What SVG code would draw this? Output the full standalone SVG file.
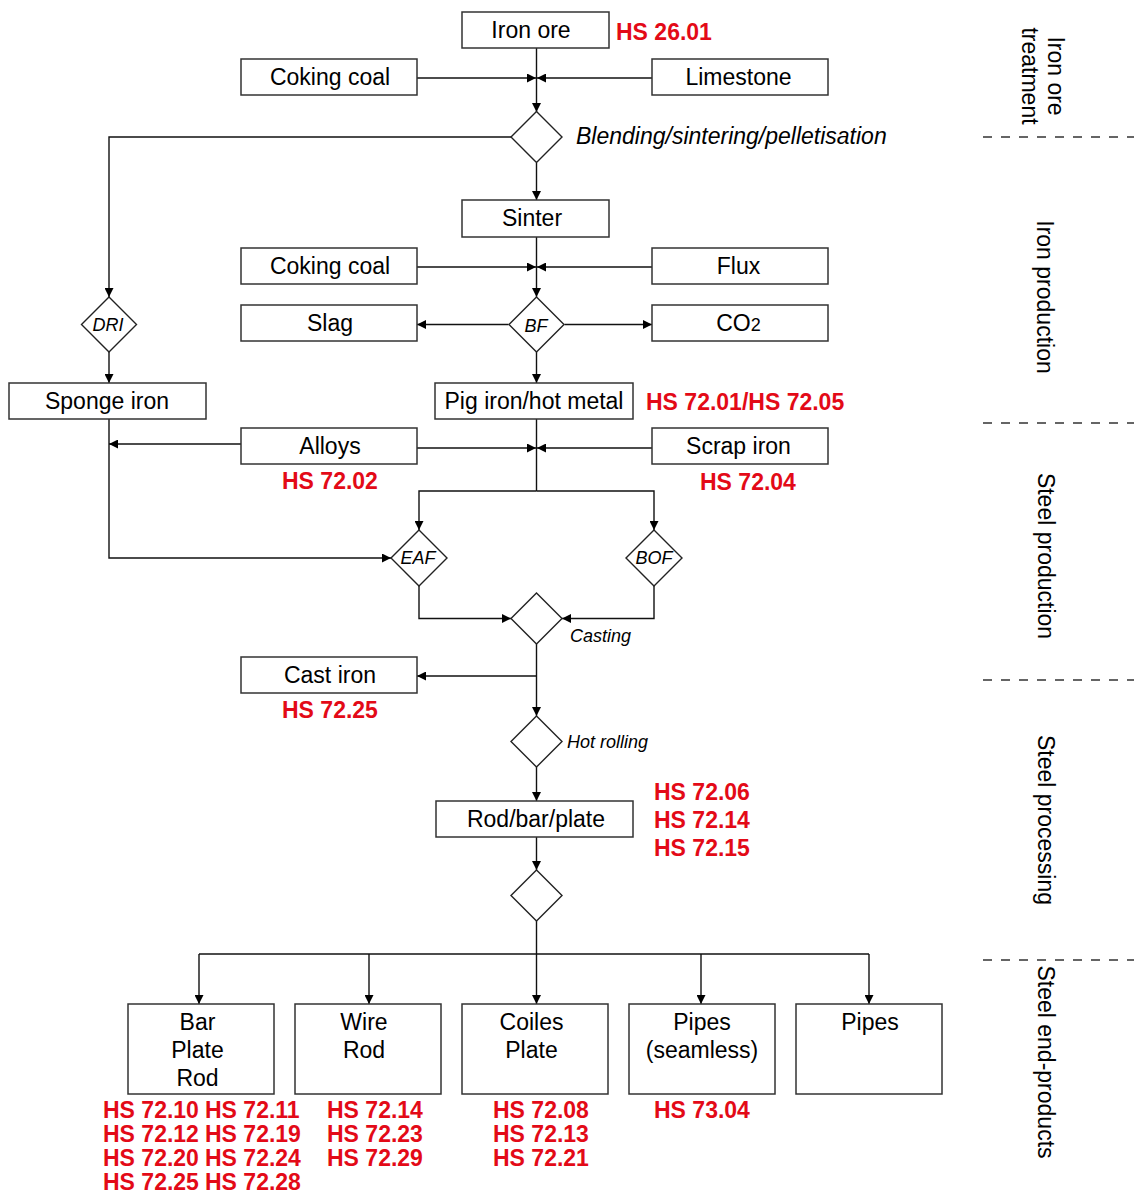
<svg xmlns="http://www.w3.org/2000/svg" width="1134" height="1194" viewBox="0 0 1134 1194">
  <style>
    .box { fill: #fff; stroke: #333; stroke-width: 1.5; }
    .dia { fill: #fff; stroke: #222; stroke-width: 1.4; }
    .lbl { font-family: "Liberation Sans", Arial, sans-serif; font-size: 23px; fill: #000; text-anchor: middle; }
    .it { font-family: "Liberation Sans", Arial, sans-serif; font-style: italic; fill: #000; }
    .dl { font-size: 18px; text-anchor: middle; }
    .hs { font-family: "Liberation Sans", Arial, sans-serif; font-size: 23px; font-weight: bold; fill: #e30a17; }
    .stage { font-family: "Liberation Sans", Arial, sans-serif; font-size: 23px; fill: #000; text-anchor: middle; }
    .conn path { fill: none; stroke: #111; stroke-width: 1.4; }
    .sep { stroke: #333; stroke-width: 1.3; stroke-dasharray: 9 9; }
  </style>
  <defs>
    <marker id="ah" viewBox="0 0 10 10" refX="10" refY="5" markerWidth="9" markerHeight="9" markerUnits="userSpaceOnUse" orient="auto">
      <path d="M0,0 L10,5 L0,10 z" fill="#000"/>
    </marker>
  </defs>
  <rect width="1134" height="1194" fill="#fff"/>

  <!-- connectors -->
  <g id="connectors" class="conn">
    <path d="M536.5,48 V112" marker-end="url(#ah)"/>
    <path d="M417,78 H536" marker-end="url(#ah)"/>
    <path d="M652,78 H537" marker-end="url(#ah)"/>
    <path d="M536.5,163 V200" marker-end="url(#ah)"/>
    <path d="M511,137 H109 V297" marker-end="url(#ah)"/>
    <path d="M109,352 V383" marker-end="url(#ah)"/>
    <path d="M109,419 V558 H391" marker-end="url(#ah)"/>
    <path d="M241,444 H109" marker-end="url(#ah)"/>
    <path d="M536.5,237 V297" marker-end="url(#ah)"/>
    <path d="M417,267 H536" marker-end="url(#ah)"/>
    <path d="M652,267 H537" marker-end="url(#ah)"/>
    <path d="M508.5,324.5 H417" marker-end="url(#ah)"/>
    <path d="M564.5,324.5 H652" marker-end="url(#ah)"/>
    <path d="M536.5,352 V383" marker-end="url(#ah)"/>
    <path d="M536.5,419 V491"/>
    <path d="M417,448 H536" marker-end="url(#ah)"/>
    <path d="M652,448 H537" marker-end="url(#ah)"/>
    <path d="M536.5,491 H419 V530" marker-end="url(#ah)"/>
    <path d="M536.5,491 H654 V530" marker-end="url(#ah)"/>
    <path d="M419,586 V618.5 H511" marker-end="url(#ah)"/>
    <path d="M654,586 V618.5 H562" marker-end="url(#ah)"/>
    <path d="M536.5,644 V716" marker-end="url(#ah)"/>
    <path d="M536.5,676 H417" marker-end="url(#ah)"/>
    <path d="M536.5,767 V801" marker-end="url(#ah)"/>
    <path d="M536.5,837 V870" marker-end="url(#ah)"/>
    <path d="M536.5,921 V1004" marker-end="url(#ah)"/>
    <path d="M199,954 H869"/>
    <path d="M199,954 V1004" marker-end="url(#ah)"/>
    <path d="M369,954 V1004" marker-end="url(#ah)"/>
    <path d="M701,954 V1004" marker-end="url(#ah)"/>
    <path d="M869,954 V1004" marker-end="url(#ah)"/>
  </g>

  <!-- iron ore treatment -->
  <g id="iron-ore">
    <rect class="box" x="462" y="12" width="147" height="36"/>
    <text class="lbl" x="531" y="38">Iron ore</text>
    <text class="hs" x="616" y="40">HS 26.01</text>
  </g>
  <g id="coking-coal-1">
    <rect class="box" x="241" y="59" width="176" height="36"/>
    <text class="lbl" x="330" y="85">Coking coal</text>
  </g>
  <g id="limestone">
    <rect class="box" x="652" y="59" width="176" height="36"/>
    <text class="lbl" x="738.5" y="85">Limestone</text>
  </g>
  <g id="blending">
    <polygon class="dia" points="536.5,111.5 562,137 536.5,162.5 511,137"/>
    <text class="it" x="576" y="144" font-size="23">Blending/sintering/pelletisation</text>
  </g>

  <!-- iron production -->
  <g id="sinter">
    <rect class="box" x="462" y="200" width="147" height="37"/>
    <text class="lbl" x="532" y="226">Sinter</text>
  </g>
  <g id="coking-coal-2">
    <rect class="box" x="241" y="248" width="176" height="36"/>
    <text class="lbl" x="330" y="274">Coking coal</text>
  </g>
  <g id="flux">
    <rect class="box" x="652" y="248" width="176" height="36"/>
    <text class="lbl" x="738.5" y="274">Flux</text>
  </g>
  <g id="dri">
    <polygon class="dia" points="109,297 136.5,324.5 109,352 81.5,324.5"/>
    <text class="it dl" x="108" y="331">DRI</text>
  </g>
  <g id="bf">
    <polygon class="dia" points="536.5,297 564,324.5 536.5,352 509,324.5"/>
    <text class="it dl" x="536" y="332">BF</text>
  </g>
  <g id="slag">
    <rect class="box" x="241" y="305" width="176" height="36"/>
    <text class="lbl" x="330" y="331">Slag</text>
  </g>
  <g id="co2">
    <rect class="box" x="652" y="305" width="176" height="36"/>
    <text class="lbl" x="738.5" y="331">CO<tspan font-size="18">2</tspan></text>
  </g>
  <g id="sponge-iron">
    <rect class="box" x="9" y="383" width="197" height="36"/>
    <text class="lbl" x="107" y="409">Sponge iron</text>
  </g>
  <g id="pig-iron">
    <rect class="box" x="435" y="383" width="198" height="36"/>
    <text class="lbl" x="534" y="409">Pig iron/hot metal</text>
    <text class="hs" x="646" y="410">HS 72.01/HS 72.05</text>
  </g>

  <!-- steel production -->
  <g id="alloys">
    <rect class="box" x="241" y="428" width="176" height="36"/>
    <text class="lbl" x="330" y="454">Alloys</text>
    <text class="hs" x="282" y="489">HS 72.02</text>
  </g>
  <g id="scrap-iron">
    <rect class="box" x="652" y="428" width="176" height="36"/>
    <text class="lbl" x="738.5" y="454">Scrap iron</text>
    <text class="hs" x="700" y="490">HS 72.04</text>
  </g>
  <g id="eaf">
    <polygon class="dia" points="419,530 447,558 419,586 391,558"/>
    <text class="it dl" x="418" y="564">EAF</text>
  </g>
  <g id="bof">
    <polygon class="dia" points="654,530 682,558 654,586 626,558"/>
    <text class="it dl" x="654" y="564">BOF</text>
  </g>
  <g id="casting">
    <polygon class="dia" points="536.5,593 562,618.5 536.5,644 511,618.5"/>
    <text class="it" x="570" y="642" font-size="18">Casting</text>
  </g>
  <g id="cast-iron">
    <rect class="box" x="241" y="657" width="176" height="36"/>
    <text class="lbl" x="330" y="683">Cast iron</text>
    <text class="hs" x="282" y="718">HS 72.25</text>
  </g>

  <!-- steel processing -->
  <g id="hot-rolling">
    <polygon class="dia" points="536.5,716 562,741.5 536.5,767 511,741.5"/>
    <text class="it" x="567" y="748" font-size="18">Hot rolling</text>
  </g>
  <g id="rod-bar-plate">
    <rect class="box" x="436" y="801" width="197" height="36"/>
    <text class="lbl" x="536" y="827">Rod/bar/plate</text>
    <text class="hs" x="654" y="800">HS 72.06</text>
    <text class="hs" x="654" y="828">HS 72.14</text>
    <text class="hs" x="654" y="856">HS 72.15</text>
  </g>
  <g id="split">
    <polygon class="dia" points="536.5,870 562,895.5 536.5,921 511,895.5"/>
  </g>

  <!-- steel end-products -->
  <g id="bar-plate-rod">
    <rect class="box" x="128" y="1004" width="146" height="90"/>
    <text class="lbl" x="197.5" y="1030">Bar</text>
    <text class="lbl" x="197.5" y="1058">Plate</text>
    <text class="lbl" x="197.5" y="1086">Rod</text>
    <text class="hs" x="103" y="1118">HS 72.10</text>
    <text class="hs" x="205" y="1118">HS 72.11</text>
    <text class="hs" x="103" y="1142">HS 72.12</text>
    <text class="hs" x="205" y="1142">HS 72.19</text>
    <text class="hs" x="103" y="1166">HS 72.20</text>
    <text class="hs" x="205" y="1166">HS 72.24</text>
    <text class="hs" x="103" y="1190">HS 72.25</text>
    <text class="hs" x="205" y="1190">HS 72.28</text>
  </g>
  <g id="wire-rod">
    <rect class="box" x="295" y="1004" width="146" height="90"/>
    <text class="lbl" x="364" y="1030">Wire</text>
    <text class="lbl" x="364" y="1058">Rod</text>
    <text class="hs" x="327" y="1118">HS 72.14</text>
    <text class="hs" x="327" y="1142">HS 72.23</text>
    <text class="hs" x="327" y="1166">HS 72.29</text>
  </g>
  <g id="coiles-plate">
    <rect class="box" x="462" y="1004" width="146" height="90"/>
    <text class="lbl" x="531.5" y="1030">Coiles</text>
    <text class="lbl" x="531.5" y="1058">Plate</text>
    <text class="hs" x="493" y="1118">HS 72.08</text>
    <text class="hs" x="493" y="1142">HS 72.13</text>
    <text class="hs" x="493" y="1166">HS 72.21</text>
  </g>
  <g id="pipes-seamless">
    <rect class="box" x="629" y="1004" width="146" height="90"/>
    <text class="lbl" x="702" y="1030">Pipes</text>
    <text class="lbl" x="702" y="1058">(seamless)</text>
    <text class="hs" x="654" y="1118">HS 73.04</text>
  </g>
  <g id="pipes">
    <rect class="box" x="796" y="1004" width="146" height="90"/>
    <text class="lbl" x="870" y="1030">Pipes</text>
  </g>

  <!-- stage labels and separators -->
  <g id="stages">
    <line class="sep" x1="983" y1="137" x2="1134" y2="137"/>
    <line class="sep" x1="983" y1="423" x2="1134" y2="423"/>
    <line class="sep" x1="983" y1="680" x2="1134" y2="680"/>
    <line class="sep" x1="983" y1="960" x2="1134" y2="960"/>
    <text class="stage" transform="translate(1048,76) rotate(90)">Iron ore</text>
    <text class="stage" transform="translate(1022,76) rotate(90)">treatment</text>
    <text class="stage" transform="translate(1037,297) rotate(90)">Iron production</text>
    <text class="stage" transform="translate(1038,556) rotate(90)">Steel production</text>
    <text class="stage" transform="translate(1038,820) rotate(90)">Steel processing</text>
    <text class="stage" transform="translate(1038,1062) rotate(90)">Steel end-products</text>
  </g>
</svg>
